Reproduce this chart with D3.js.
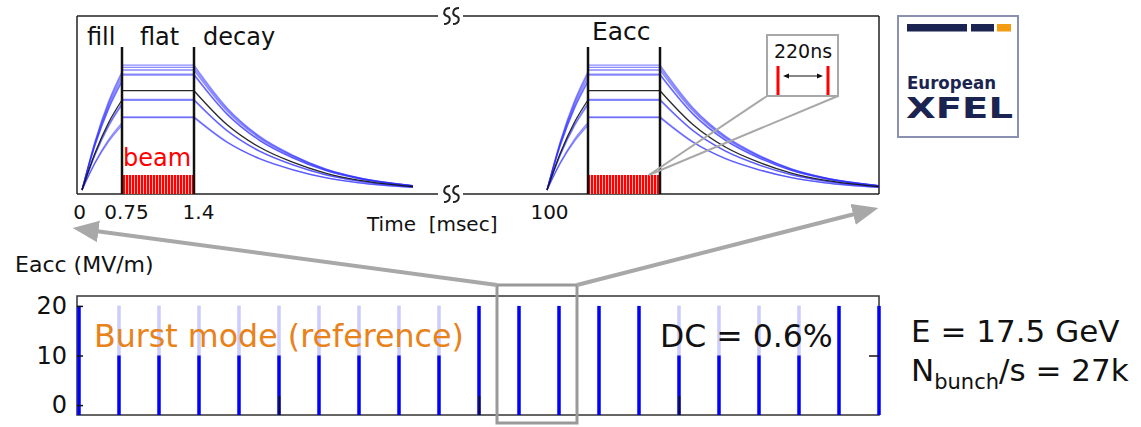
<!DOCTYPE html>
<html>
<head>
<meta charset="utf-8">
<script src="https://cdn.jsdelivr.net/npm/d3@7"></script>
<style>
body { margin: 0; background: #fff; }
text { font-family: "DejaVu Sans", sans-serif; }
</style>
</head>
<body>
<div id="chart"></div>
<script>
// ---- top panel: cavity gradients during one RF pulse (MV/m)
const cavityFlat    = [20.8, 20.45, 20.0, 19.3, 19.15, 16.55, 15.1, 14.95, 12.2, 12.05];
const cavityFillEnd = [19.7, 19.3, 18.8, 18.3, 18.0, 15.0, 14.5, 14.2, 11.2, 10.8];
const cavityIsRef   = [false, false, false, false, false, true, false, false, false, false];
// normalised shapes
const fillTimes  = [0, 0.25, 0.5, 0.75];
const fillShape  = [0, 0.42, 0.75, 1];
const decayTimes = [0, 0.3, 0.6, 0.9, 1.2, 1.5, 2.0];
const decayShape = [1, 0.66, 0.43, 0.28, 0.17, 0.10, 0.035];
const pulseStartMs = [0, 100];
const fillEndMs = 0.75, flatEndMs = 1.4, tailMs = 3.4;
const beamHeight = 2.5;
const tickLabelsLeft = [0, 0.75, 1.4];
const tickLabelsRight = [100];

// ---- bottom panel: 10 Hz burst mode
const pulseTimes = [0, 0.1, 0.2, 0.3, 0.4, 0.5, 0.6, 0.7, 0.8, 0.9, 1.0,
                    1.1, 1.2, 1.3, 1.4, 1.5, 1.6, 1.7, 1.8, 1.9, 2.0];
const pulseEacc  = [20, 20, 20, 20, 20, 20, 20, 20, 20, 20, 20,
                    20, 20, 20, 20, 20, 20, 20, 20, 20, 20];
const eaccTicks = [0, 10, 20];
const secTicks = [0.5, 1, 1.5];
const zoomWindow = [1.045, 1.245];

const W = 1141, H = 427;
const svg = d3.select("#chart").append("svg")
    .attr("width", W)
    .attr("height", H);

const defs = svg.append("defs");
defs.append("pattern")
    .attr("id", "bunches")
    .attr("patternUnits", "userSpaceOnUse")
    .attr("width", 3).attr("height", 40)
    .call(p => {
        p.append("rect").attr("width", 3).attr("height", 40).attr("fill", "#ffb3b3");
        p.append("rect").attr("width", 2).attr("height", 40).attr("fill", "#ff0000");
    });
defs.append("marker")
    .attr("id", "head")
    .attr("viewBox", "0 0 12 10")
    .attr("markerUnits", "userSpaceOnUse")
    .attr("markerWidth", 26).attr("markerHeight", 22)
    .attr("refX", 4).attr("refY", 5)
    .attr("orient", "auto")
    .append("path")
    .attr("d", "M0,0 L12,5 L0,10 Z")
    .attr("fill", "#a8a8a8");

// ================= top panel =================
const topFrame = {left: 77, right: 879, top: 16, bottom: 194, breakL: 438, breakR: 463};
const yTop = d3.scaleLinear().domain([0, 25]).range([190, 40]);
const xPanels = [
    d3.scaleLinear().domain([0, fillEndMs, flatEndMs, tailMs]).range([82, 122, 194, 413]),
    d3.scaleLinear().domain([100, 100 + fillEndMs, 100 + flatEndMs, 100 + tailMs]).range([547, 588, 660, 879])
];

const topG = svg.append("g");

// frame with axis break
const frameColor = "#222";
[topFrame.top, topFrame.bottom].forEach(y => {
    topG.append("line").attr("x1", topFrame.left).attr("x2", topFrame.breakL)
        .attr("y1", y).attr("y2", y).attr("stroke", frameColor).attr("stroke-width", 1.5);
    topG.append("line").attr("x1", topFrame.breakR).attr("x2", topFrame.right)
        .attr("y1", y).attr("y2", y).attr("stroke", frameColor).attr("stroke-width", 1.5);
    [447, 456].forEach(cx => {
        topG.append("path")
            .attr("d", `M${cx + 3},${y - 8} C${cx - 4},${y - 8} ${cx - 4},${y - 1} ${cx},${y} C${cx + 4},${y + 1} ${cx + 4},${y + 8} ${cx - 3},${y + 8}`)
            .attr("fill", "none").attr("stroke", frameColor).attr("stroke-width", 2);
    });
});
topG.append("line").attr("x1", topFrame.left).attr("x2", topFrame.left)
    .attr("y1", topFrame.top).attr("y2", topFrame.bottom).attr("stroke", frameColor).attr("stroke-width", 1.5);
topG.append("line").attr("x1", topFrame.right).attr("x2", topFrame.right)
    .attr("y1", topFrame.top).attr("y2", topFrame.bottom).attr("stroke", frameColor).attr("stroke-width", 1.5);

const order = d3.range(cavityFlat.length).sort((a, b) => cavityIsRef[a] - cavityIsRef[b]);

pulseStartMs.forEach((p, k) => {
    const x = xPanels[k];
    const line = d3.line().x(d => x(d[0])).y(d => yTop(d[1])).curve(d3.curveMonotoneX);
    const g = topG.append("g");

    // beam bunches
    g.append("rect")
        .attr("x", x(p + fillEndMs))
        .attr("y", yTop(beamHeight))
        .attr("width", x(p + flatEndMs) - x(p + fillEndMs))
        .attr("height", topFrame.bottom - yTop(beamHeight))
        .attr("fill", "url(#bunches)");

    order.forEach(i => {
        const col = cavityIsRef[i] ? "#111" : "#2a2aff";
        const op = cavityIsRef[i] ? 0.9 : 0.55;
        const segs = [
            fillTimes.map((t, j) => [p + t, cavityFillEnd[i] * fillShape[j]]),
            [[p + fillEndMs, cavityFlat[i]], [p + flatEndMs, cavityFlat[i]]],
            decayTimes.map((t, j) => [p + flatEndMs + t, cavityFlat[i] * decayShape[j]])
        ];
        segs.forEach(s => {
            g.append("path")
                .attr("d", line(s))
                .attr("fill", "none")
                .attr("stroke", col)
                .attr("stroke-opacity", op)
                .attr("stroke-width", 1.3);
        });
    });

    // fill / flat boundaries
    [p + fillEndMs, p + flatEndMs].forEach(t => {
        g.append("line")
            .attr("x1", x(t)).attr("x2", x(t))
            .attr("y1", 47).attr("y2", topFrame.bottom)
            .attr("stroke", "#111").attr("stroke-width", 2.5);
    });

    const ax = d3.axisBottom(x)
        .tickValues(k === 0 ? tickLabelsLeft : tickLabelsRight)
        .tickSize(0).tickPadding(10)
        .tickFormat(d => d);
    const axg = g.append("g").attr("transform", `translate(0,${topFrame.bottom + 1})`).call(ax);
    axg.select(".domain").remove();
    axg.selectAll("text")
        .attr("font-family", "DejaVu Sans").attr("font-size", 20).attr("fill", "#111")
        .attr("dx", d => d === 0 ? -3 : (d === 100 ? 2 : 4));
});

topG.append("text").attr("x", 87).attr("y", 45).attr("font-size", 24).attr("fill", "#111").text("fill");
topG.append("text").attr("x", 140).attr("y", 45).attr("font-size", 24).attr("fill", "#111").text("flat");
topG.append("text").attr("x", 203).attr("y", 45).attr("font-size", 24).attr("fill", "#111").text("decay");
topG.append("text").attr("x", 592).attr("y", 40).attr("font-size", 25).attr("fill", "#111").text("Eacc");
topG.append("text").attr("x", 123).attr("y", 166).attr("font-size", 24).attr("fill", "#ff0000").text("beam");
topG.append("text").attr("x", 367).attr("y", 231).attr("font-size", 20).attr("fill", "#111")
    .attr("xml:space", "preserve").text("Time  [msec]");

// bunch-spacing inset
const target = [xPanels[1](101.3), yTop(beamHeight)];
topG.append("line").attr("x1", 767).attr("y1", 96).attr("x2", target[0]).attr("y2", target[1])
    .attr("stroke", "#a8a8a8").attr("stroke-width", 2);
topG.append("line").attr("x1", 838).attr("y1", 96).attr("x2", target[0]).attr("y2", target[1])
    .attr("stroke", "#a8a8a8").attr("stroke-width", 2);
topG.append("rect").attr("x", 767).attr("y", 35).attr("width", 71).attr("height", 61)
    .attr("fill", "#fff").attr("stroke", "#a8a8a8").attr("stroke-width", 2);
topG.append("text").attr("x", 803).attr("y", 58).attr("text-anchor", "middle")
    .attr("font-size", 19).attr("fill", "#111").text("220ns");
[778, 828].forEach(xx => {
    topG.append("rect").attr("x", xx - 1.5).attr("y", 66).attr("width", 3).attr("height", 29).attr("fill", "#ff0000");
});
topG.append("line").attr("x1", 786).attr("x2", 820).attr("y1", 76).attr("y2", 76)
    .attr("stroke", "#111").attr("stroke-width", 1.2);
topG.append("path").attr("d", "M783,76 L789,73.5 L789,78.5 Z M823,76 L817,73.5 L817,78.5 Z").attr("fill", "#111");

// logo
const logo = svg.append("g");
logo.append("rect").attr("x", 898).attr("y", 16).attr("width", 120).attr("height", 121)
    .attr("fill", "#fff").attr("stroke", "#8a90b2").attr("stroke-width", 2);
logo.append("rect").attr("x", 907).attr("y", 24).attr("width", 60).attr("height", 7.5).attr("fill", "#1b2451");
logo.append("rect").attr("x", 971).attr("y", 24).attr("width", 23).attr("height", 7.5).attr("fill", "#1b2451");
logo.append("rect").attr("x", 997).attr("y", 24).attr("width", 14).attr("height", 7.5).attr("fill", "#f39c12");
logo.append("text").attr("x", 907).attr("y", 89).attr("font-family", "Liberation Sans, Arial, sans-serif")
    .attr("font-weight", "bold").attr("font-size", 18).attr("fill", "#1b2451")
    .attr("textLength", 89).attr("lengthAdjust", "spacingAndGlyphs")
    .text("European");
logo.append("text").attr("x", 0).attr("y", 0).attr("font-family", "Liberation Sans, Arial, sans-serif")
    .attr("font-weight", "bold").attr("font-size", 29).attr("fill", "#1b2451")
    .attr("transform", "translate(906,118) scale(1.33,1)")
    .text("XFEL");

// ================= bottom panel =================
const xBot = d3.scaleLinear().domain([0, 2]).range([79, 879]);
const yBot = d3.scaleLinear().domain([-2, 22]).range([415, 296]);
const bot = svg.append("g");

bot.append("rect")
    .attr("x", 77).attr("y", yBot(22))
    .attr("width", xBot(2) - 77).attr("height", yBot(-2) - yBot(22))
    .attr("fill", "none").attr("stroke", "#333").attr("stroke-width", 1.5);

bot.selectAll(".pulse")
    .data(pulseTimes)
    .enter().append("rect")
    .attr("class", "pulse")
    .attr("x", d => xBot(d) - 1.75)
    .attr("y", (d, i) => yBot(pulseEacc[i]))
    .attr("width", 3.5)
    .attr("height", (d, i) => yBot(-2) - yBot(pulseEacc[i]))
    .attr("fill", "#0000ff");

// annotations with a translucent backing between 10 and 20 MV/m
function label(x0, x1, txt, colour, size, tx) {
    bot.append("rect")
        .attr("x", x0).attr("y", yBot(20))
        .attr("width", x1 - x0).attr("height", yBot(10) - yBot(20))
        .attr("fill", "#fff").attr("fill-opacity", 0.8);
    bot.append("text").attr("x", tx).attr("y", 347)
        .attr("font-size", size).attr("fill", colour).text(txt);
}
label(90, 466, "Burst mode (reference)", "#e8821a", 31.7, 94);
label(662, 834, "DC = 0.6%", "#111", 31.5, 660);

const xAx = bot.append("g").attr("transform", `translate(0,${yBot(-2)})`)
    .call(d3.axisBottom(xBot).tickValues(secTicks).tickSize(-19).tickFormat(""));
xAx.select(".domain").remove();
xAx.selectAll("line").attr("stroke", "#111").attr("stroke-width", 1.6);

const yAx = bot.append("g").attr("transform", "translate(77,0)")
    .call(d3.axisLeft(yBot).tickValues(eaccTicks).tickSize(-6).tickPadding(10));
yAx.select(".domain").remove();
yAx.selectAll("line").attr("stroke", "#111").attr("stroke-width", 1.5);
yAx.selectAll("text").attr("font-family", "DejaVu Sans").attr("font-size", 24).attr("fill", "#111");

const yAxR = bot.append("g").attr("transform", `translate(${xBot(2)},0)`)
    .call(d3.axisRight(yBot).tickValues([10]).tickSize(-10).tickFormat(""));
yAxR.select(".domain").remove();
yAxR.selectAll("line").attr("stroke", "#111").attr("stroke-width", 1.5);

bot.append("text").attr("x", 15).attr("y", 272).attr("font-size", 22).attr("fill", "#111").text("Eacc (MV/m)");

// zoom window and arrows
const winTop = 285, winBottom = 423;
bot.append("rect")
    .attr("x", xBot(zoomWindow[0])).attr("y", winTop)
    .attr("width", xBot(zoomWindow[1]) - xBot(zoomWindow[0])).attr("height", winBottom - winTop)
    .attr("fill", "none").attr("stroke", "#999").attr("stroke-width", 3);

function arrow(x0, y0, tx, ty) {
    const dx = tx - x0, dy = ty - y0, len = Math.hypot(dx, dy);
    const back = 17;
    svg.append("line")
        .attr("x1", x0).attr("y1", y0)
        .attr("x2", tx - dx / len * back).attr("y2", ty - dy / len * back)
        .attr("stroke", "#a8a8a8").attr("stroke-width", 4)
        .attr("marker-end", "url(#head)");
}
arrow(xBot(zoomWindow[0]), winTop, 73, 228);
arrow(xBot(zoomWindow[1]), winTop, 878, 208);

// beam parameters
const info = svg.append("g").attr("fill", "#111");
info.append("text").attr("x", 911).attr("y", 342).attr("font-size", 31).text("E = 17.5 GeV");
const nb = info.append("text").attr("x", 911).attr("y", 381).attr("font-size", 31);
nb.append("tspan").text("N");
nb.append("tspan").attr("font-size", 21).attr("dy", 8).text("bunch");
nb.append("tspan").attr("dy", -8).text("/s = 27k");
</script>
</body>
</html>
